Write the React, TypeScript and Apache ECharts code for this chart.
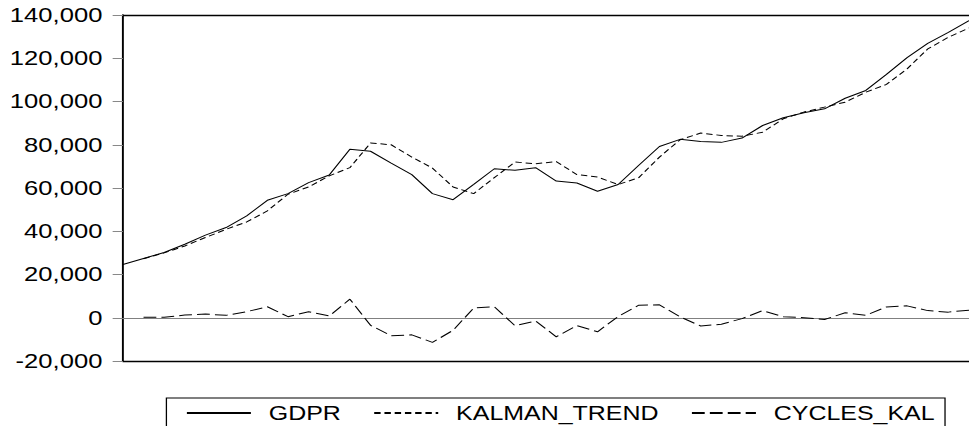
import React, { useEffect, useRef } from "react";
import * as echarts from "echarts";

const observations = [
  "1", "2", "3", "4", "5", "6", "7", "8", "9", "10", "11", "12", "13", "14",
  "15", "16", "17", "18", "19", "20", "21", "22", "23", "24", "25", "26", "27", "28",
  "29", "30", "31", "32", "33", "34", "35", "36", "37", "38", "39", "40", "41", "42",
];

const gdpr = [
  24600, 27400, 30200, 34000, 38200, 41700, 47100, 54300, 57400, 62500, 66000,
  77900, 77000, 71500, 66200, 57400, 54600, 61700, 68900, 68200, 69400, 63200,
  62300, 58500, 61600, 70500, 79200, 82500, 81500, 81100, 83100, 88900, 92500,
  94800, 96600, 101500, 105100, 112500, 120300, 126900, 132000, 137400,
];

const kalmanTrend = [
  null, 27300, 30000, 33200, 37100, 40900, 44300, 49400, 57100, 60500, 65600,
  69400, 80800, 80000, 74300, 69200, 60500, 57400, 64800, 72000, 71200, 72200,
  66200, 65100, 61600, 64800, 74300, 82300, 85400, 84300, 83900, 85800, 92000,
  95100, 97400, 99700, 104300, 107900, 115100, 124300, 129700, 134000,
];

const cyclesKal = [
  null, 200, 200, 1250, 1700, 1100, 2800, 5100, 500, 2800, 800,
  8600, -3500, -8300, -7900, -11400, -5800, 4500, 5100, -3700, -1500, -8800,
  -3600, -6500, 600, 5800, 6000, 400, -3800, -3000, -400, 3300, 500,
  0, -800, 2300, 1100, 5000, 5500, 3300, 2600, 3500,
];

const seriesNames = ["GDPR", "KALMAN_TREND", "CYCLES_KAL"];

const FONT = "'Liberation Sans', Arial, Helvetica, sans-serif";

// The reference graph is horizontally stretched; the chart is drawn at a
// narrower width and stretched back to the 969px page.
const PAGE_W = 969;
const PAGE_H = 426;
const CHART_W = 757;
const STRETCH = PAGE_W / CHART_W;

export default function App() {
  const ref = useRef<HTMLDivElement>(null);

  useEffect(() => {
    if (!ref.current) return;
    const chart = echarts.init(ref.current, undefined, { renderer: "svg" });
    chart.setOption({
      animation: false,
      backgroundColor: "#ffffff",
      grid: { left: 96, top: 15, right: 0, height: 346, containLabel: false },
      legend: {
        data: seriesNames,
        left: 130,
        top: 398,
        orient: "horizontal",
        backgroundColor: "#ffffff",
        borderColor: "#000000",
        borderWidth: 1,
        borderRadius: 0,
        padding: [5, 8, 10, 15],
        itemWidth: 50,
        itemHeight: 14,
        itemGap: 25,
        itemStyle: { opacity: 0 },
        formatter: (name: string) => `{t|${name}}`,
        textStyle: {
          fontFamily: FONT,
          fontSize: 19.5,
          color: "#000000",
          rich: { t: { fontFamily: FONT, fontSize: 19.5, color: "#000000", padding: [0, 0, 0, 9] } },
        },
      },
      xAxis: [
        {
          type: "category",
          data: observations,
          boundaryGap: false,
          axisLine: { show: true, onZero: false, lineStyle: { color: "#000000", width: 1.3 } },
          axisTick: { show: false },
          axisLabel: { show: false },
          splitLine: { show: false },
        },
        {
          type: "category",
          data: observations,
          position: "top",
          boundaryGap: false,
          axisLine: { show: true, onZero: false, lineStyle: { color: "#000000", width: 1.3 } },
          axisTick: { show: false },
          axisLabel: { show: false },
          splitLine: { show: false },
        },
      ],
      yAxis: {
        type: "value",
        min: -20000,
        max: 140000,
        interval: 20000,
        axisLine: { show: true, lineStyle: { color: "#000000", width: 1.5 } },
        axisTick: { show: true, length: 8, inside: false, lineStyle: { color: "#888888", width: 1 } },
        axisLabel: {
          margin: 16,
          fontFamily: FONT,
          fontSize: 20,
          color: "#000000",
          formatter: (v: number) => v.toLocaleString("en-US"),
        },
        splitLine: { show: false },
      },
      series: [
        {
          name: "GDPR",
          type: "line",
          data: gdpr,
          symbol: "none",
          lineStyle: { color: "#000000", width: 1, type: "solid" },
          itemStyle: { color: "#000000", opacity: 0 },
        },
        {
          name: "KALMAN_TREND",
          type: "line",
          data: kalmanTrend,
          symbol: "none",
          lineStyle: { color: "#000000", width: 1, type: [5, 3] },
          itemStyle: { color: "#000000", opacity: 0 },
        },
        {
          name: "CYCLES_KAL",
          type: "line",
          data: cyclesKal,
          symbol: "none",
          lineStyle: { color: "#000000", width: 1, type: [10, 4] },
          itemStyle: { color: "#000000", opacity: 0 },
          z: 3,
          markLine: {
            silent: true,
            symbol: "none",
            label: { show: false },
            lineStyle: { color: "#808080", type: "solid", width: 1.2, opacity: 1 },
            data: [{ yAxis: 0 }],
            z: 1,
          },
        },
      ],
    });
    return () => chart.dispose();
  }, []);

  return (
    <div
      style={{
        position: "fixed",
        left: 0,
        top: 0,
        width: PAGE_W,
        height: PAGE_H,
        overflow: "hidden",
        background: "#fff",
      }}
    >
      <div
        ref={ref}
        style={{
          width: CHART_W,
          height: PAGE_H,
          transform: `scaleX(${STRETCH})`,
          transformOrigin: "0 0",
        }}
      />
    </div>
  );
}
